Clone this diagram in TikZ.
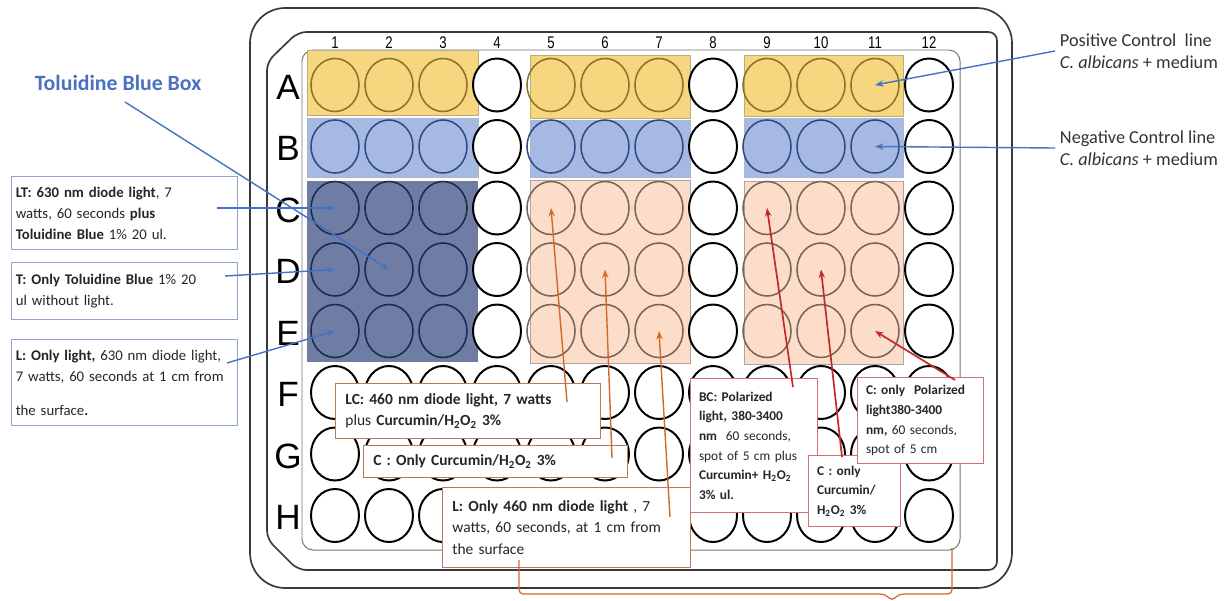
\documentclass[tikz,border=0pt]{standalone}
\usepackage{fontspec}
\setmainfont{Carlito}
\newfontfamily\arialfont{Liberation Sans}
\newfontfamily\narrowfont[FakeStretch=0.78]{Liberation Sans}
\usetikzlibrary{shapes.geometric,arrows.meta,positioning}
\definecolor{goldband}{HTML}{F6D67E}
\definecolor{goldline}{HTML}{8A7426}
\definecolor{blueband}{HTML}{A6B9E2}
\definecolor{bluewell}{HTML}{2E4A87}
\definecolor{navyband}{HTML}{6F7CA4}
\definecolor{navyline}{HTML}{1C2A50}
\definecolor{peachband}{HTML}{FBDDCA}
\definecolor{peachline}{HTML}{7A6554}
\definecolor{blueln}{HTML}{4472C4}
\definecolor{lboxc}{HTML}{8FA4CB}
\definecolor{cboxc}{HTML}{B87B60}
\definecolor{rboxc}{HTML}{D07070}
\definecolor{orangeln}{HTML}{D2692A}
\definecolor{redln}{HTML}{C62828}
\definecolor{titleblue}{HTML}{4A70C0}
\definecolor{frame}{HTML}{3A3A3A}

\begin{document}
\begin{tikzpicture}[
  x=0.025cm, y=-0.025cm,
  well/.style={ellipse, minimum width=1.2cm, minimum height=1.325cm, inner sep=0pt},
  well0/.style={draw=black, fill=white, line width=1.4pt},
  well1/.style={draw=goldline, line width=1.1pt},
  well2/.style={draw=bluewell, line width=1.1pt},
  well3/.style={draw=navyline, line width=1.1pt},
  well4/.style={draw=peachline, line width=1.1pt},
  rowlab/.style={font=\arialfont\fontsize{25}{25}\selectfont},
  collab/.style={font=\narrowfont\fontsize{12}{12}\selectfont},
  txt/.style={fill=white, anchor=north west, align=left, text=black!85,
              font=\fontsize{10.5}{15}\selectfont},
  lbox/.style={txt, draw=lboxc, line width=0.8pt, inner xsep=3pt},
  cbox/.style={txt, draw=cboxc, line width=0.8pt, inner xsep=7pt,
               font=\fontsize{11}{15}\selectfont},
  rbox/.style={txt, draw=rboxc, line width=0.8pt, inner xsep=6pt,
               font=\fontsize{9.5}{14}\selectfont},
  barr/.style={-{Stealth[length=6pt,width=4.5pt]}, draw=blueln, line width=1pt},
  oarr/.style={-{Stealth[length=6pt,width=4.5pt]}, draw=orangeln, line width=1pt},
  rarr/.style={-{Stealth[length=6pt,width=4.5pt]}, draw=redln, line width=1.2pt}
]
\useasboundingbox (0,0) rectangle (1232,600);

% plate
\draw[frame, line width=1.2pt, rounded corners=25] (250,8) rectangle (1012,588);
\draw[frame, line width=1.2pt, rounded corners=6]
  (267,62) -- (298,32) -- (997,32) -- (997,570) -- (298,570) -- (267,539) -- cycle;
\draw[black!55, line width=0.7pt, rounded corners=8] (302,50) rectangle (960,550);

% coloured groups
\fill[goldband, draw=goldline!60] (307,50) rectangle (478,115);
\fill[goldband, draw=goldline!60] (530,55) rectangle (690,118);
\fill[goldband, draw=goldline!60] (744,55) rectangle (903,116);
\fill[blueband, draw=bluewell!40] (307,118) rectangle (478,177);
\fill[blueband, draw=bluewell!40] (530,120) rectangle (690,177);
\fill[blueband, draw=bluewell!40] (744,118) rectangle (903,177);
\fill[navyband] (307,181) rectangle (478,362);
\fill[peachband, draw=black!35] (530,180) rectangle (690,363);
\fill[peachband, draw=black!35] (744,181) rectangle (903,364);

\foreach \c in {1,...,12}
  \node[collab] (col\c) at ({335+54*(\c-1)},43) {\c};
\foreach \r/\rl in {1/A,2/B,3/C,4/D,5/E,6/F,7/G,8/H}{
  \node[rowlab] (row\rl) at (288,{87+61.5*(\r-1)}) {\rl};
  \foreach \c in {1,...,12}{
    \pgfmathtruncatemacro{\kind}{(\c==4 || \c==8 || \c==12 || \r>5) ? 0 : (\r==1 ? 1 : (\r==2 ? 2 : (\c<4 ? 3 : 4)))}
    \node[well, well\kind] (\rl\c) at ({335+54*(\c-1)},{85+61.5*(\r-1)}) {};
  }
}

% left notes
\node[font=\bfseries\fontsize{15.5}{17}\selectfont, text=titleblue] (tbtitle) at (118,83) {Toluidine Blue Box};
\node[lbox, text width=5.44cm, minimum height=1.825cm] (lt) at (11,176)
  {\textbf{LT: 630 nm diode light}, 7\\watts, 60 seconds \textbf{plus}\\\textbf{Toluidine Blue} 1\% 20 ul.};
\node[lbox, text width=5.44cm, minimum height=1.425cm] (t) at (11,262)
  {\textbf{T: Only Toluidine Blue} 1\% 20\\ul without light.};
\node[lbox, text width=5.44cm, minimum height=2.15cm] (l) at (11,339)
  {\textbf{L: Only light,} 630 nm diode light,\\7 watts, 60 seconds at 1 cm from\\[9pt]the surface\textbf{.}};

% right notes
\node[anchor=west, align=left, font=\fontsize{13}{16}\selectfont, text=black!80] (pos) at (1055,51)
  {Positive Control\ \ line\\\textit{C. albicans} + medium};
\node[anchor=west, align=left, font=\fontsize{13}{16}\selectfont, text=black!80] (neg) at (1055,148)
  {Negative Control line\\\textit{C. albicans} + medium};

% curcumin notes
\node[cbox, text width=6.13cm, minimum height=1.375cm] (lc) at (335,383)
  {\textbf{LC: 460 nm diode light, 7 watts}\\plus \textbf{Curcumin/H\textsubscript{2}O\textsubscript{2} 3\%}};
\node[cbox, text width=6.11cm, minimum height=0.8cm] (cc) at (363,445)
  {\textbf{C : Only Curcumin/H\textsubscript{2}O\textsubscript{2} 3\%}};
\node[cbox, text width=5.71cm, minimum height=2cm] (lcen) at (442,487)
  {\textbf{L: Only 460 nm diode light} , 7\\watts, 60 seconds, at 1 cm from\\the surface};

% polarized notes
\node[rbox, text width=2.75cm, minimum height=3.35cm] (bc) at (690,378)
  {\textbf{BC: Polarized}\\\textbf{light, 380-3400}\\\textbf{nm}\ \ 60 seconds,\\spot of 5 cm plus\\\textbf{Curcumin+ H\textsubscript{2}O\textsubscript{2}}\\\textbf{3\% ul.}};
\node[rbox, text width=1.87cm, minimum height=1.775cm] (conly) at (808,455)
  {\textbf{C : only}\\\textbf{Curcumin/}\\\textbf{H\textsubscript{2}O\textsubscript{2} 3\%}};
\node[rbox, text width=2.72cm, minimum height=2.15cm] (pol) at (857,377)
  {\textbf{C: only\ \ Polarized}\\\textbf{light380-3400}\\\textbf{nm,} 60 seconds,\\spot of 5 cm};

\coordinate (tbS) at (125,102);
\coordinate (ltS) at (217,208);
\coordinate (tS) at (225,276);
\coordinate (lS) at (227,363);
\coordinate (lcS) at (567,402);
\coordinate (ccS) at (612,458);
\coordinate (lcenS) at (670,517);
\coordinate (bcS) at (793,387);
\coordinate (conlyS) at (842,457);
\coordinate (polS) at (955,380);
\coordinate (brA) at (519,560);
\coordinate (brB) at (952,548);

\draw[barr] (tbS) -- (D2.center);
\draw[barr] (ltS) -- (C1.center);
\draw[barr] (tS) -- (D1.center);
\draw[barr] (lS) -- (E1.center);
\draw[barr] (pos.west) -- (A11.center);
\draw[barr] (neg.west) -- (B11.center);
\draw[oarr] (lcS) -- (C5.center);
\draw[oarr] (ccS) -- (D6.center);
\draw[oarr] (lcenS) -- (E7.center);
\draw[rarr] (bcS) -- (C9.center);
\draw[rarr] (conlyS) -- (D10.center);
\draw[rarr] (polS) -- (E11.center);
\draw[orangeln, line width=0.9pt, rounded corners=3]
  (brA) |- (885,594) -- (892,601) -- (899,594) -| (brB);
\end{tikzpicture}
\end{document}
